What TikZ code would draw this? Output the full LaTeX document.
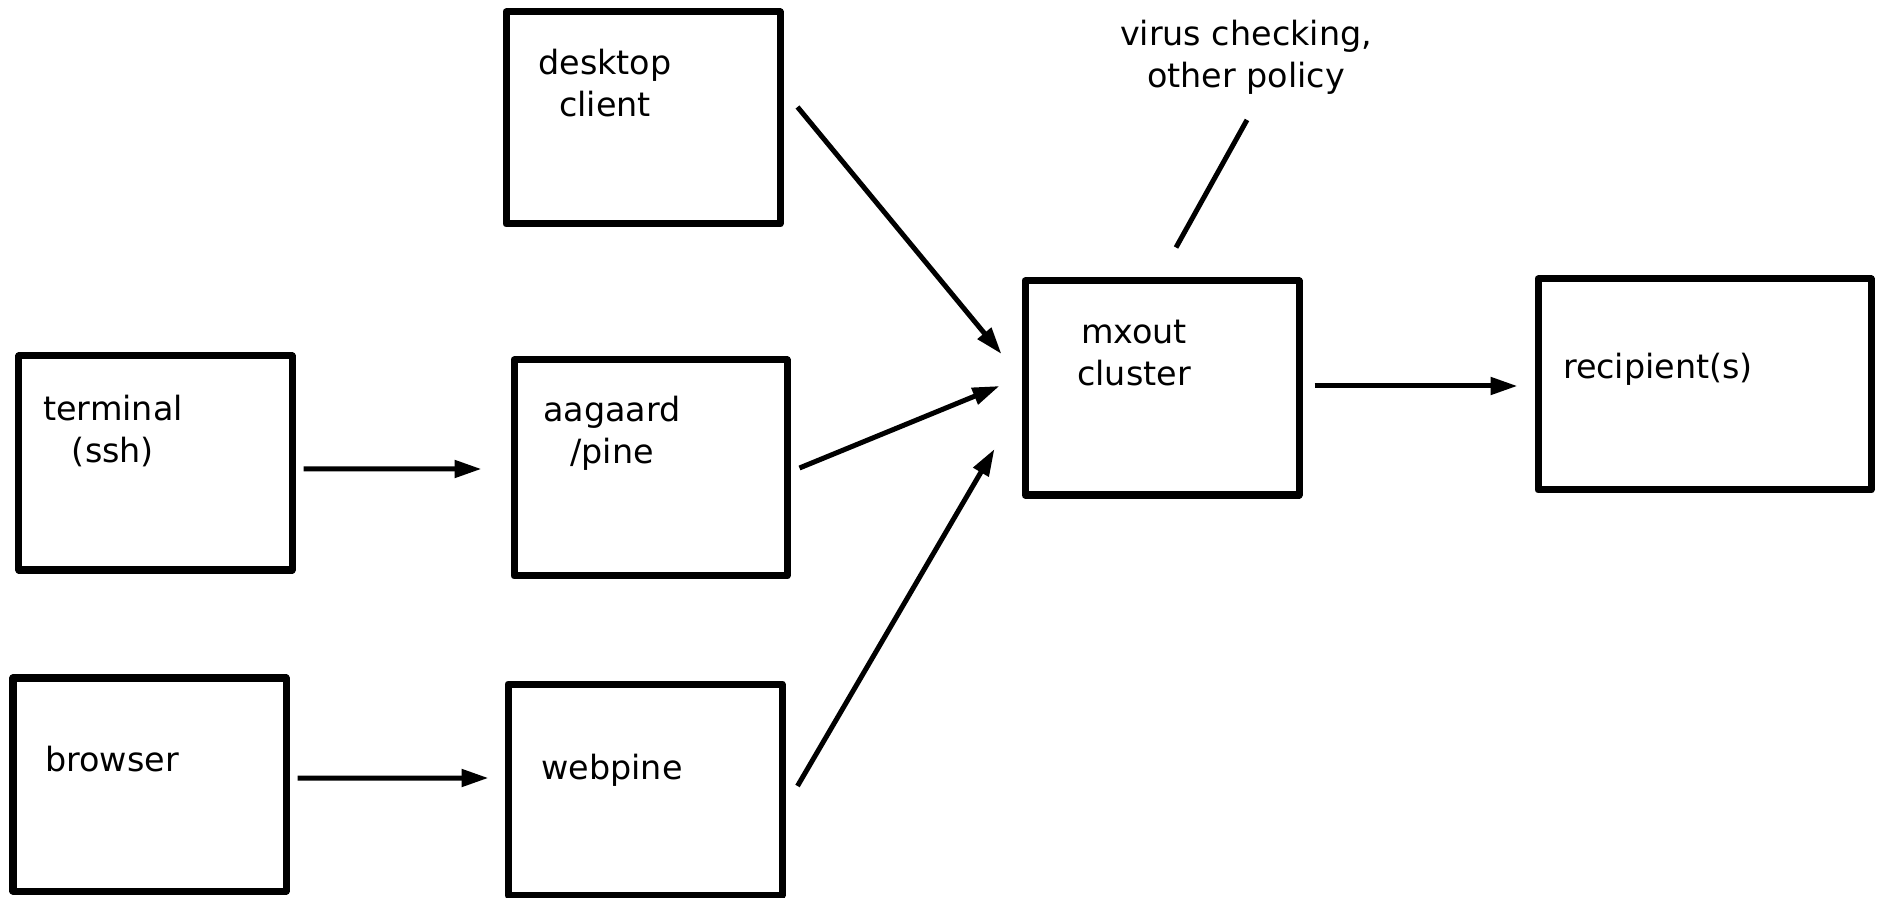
\documentclass[tikz,border=0pt]{standalone}
\usepackage{fontspec}
\setmainfont{DejaVu Sans}
\usetikzlibrary{arrows.meta, positioning, calc}

\begin{document}
\begin{tikzpicture}[box/.style={draw, line width=0.07cm, line join=round, minimum width=2.74cm, minimum height=2.14cm, inner sep=0pt}, txt/.style={align=center, inner sep=0pt, font=\fontsize{9.5}{12}\selectfont}, arr/.style={-{Triangle[length=0.27cm,width=0.17cm]}, line width=0.05cm}]
        \useasboundingbox (0,0) rectangle (18.78,-8.98);

        % boxes
        \node[box, minimum height=2.12cm] (desk) at (6.43,-1.18) {};
        \node[box, minimum width=2.73cm] (term) at (1.555,-4.63) {};
        \node[box, minimum width=2.73cm, minimum height=2.16cm] (aag) at (6.505,-4.68) {};
        \node[box, minimum width=2.73cm, minimum height=2.13cm] (brow) at (1.495,-7.845) {};
        \node[box, minimum height=2.11cm] (web) at (6.45,-7.895) {};
        \node[box] (mx) at (11.62,-3.88) {};
        \node[box, minimum width=3.33cm, minimum height=2.11cm] (rec) at (17.045,-3.845) {};

        % texts
        \node[txt] (desktxt) at (6.05,-0.83) {desktop\\client};
        \node[txt] (termtxt) at (1.13,-4.31) {terminal\\(ssh)};
        \node[txt] (aagtxt) at (6.12,-4.33) {aagaard\\/pine};
        \node[txt] (browtxt) at (1.12,-7.59) {browser};
        \node[txt] (webtxt) at (6.12,-7.70) {webpine};
        \node[txt] (mxtxt) at (11.34,-3.53) {mxout\\cluster};
        \node[txt] (rectxt) at (16.58,-3.69) {recipient(s)};
        \node[txt] (virus) at (12.46,-0.575) {virus checking,\\other policy};

        \draw[arr] ([shift={(0.08,-0.06)}]term.east) -- ([shift={(-0.29,-0.01)}]aag.west);
        \draw[arr] ([shift={(0.08,0.065)}]brow.east) -- ([shift={(-0.16,0.115)}]web.west);
        \draw[arr] ([shift={(0.14,0.11)}]desk.east) -- ([shift={(-0.20,0.34)}]mx.west);
        \draw[arr] ([shift={(0.09,0)}]aag.east) -- ([shift={(-0.22,0.02)}]mx.west);
        \draw[arr] ([shift={(0.12,0.035)}]web.east) -- ([shift={(-0.27,-0.61)}]mx.west);
        \draw[arr] ([shift={(0.12,0.02)}]mx.east) -- ([shift={(-0.17,-0.015)}]rec.west);
        \draw[line width=0.05cm] ([shift={(0.01,-0.245)}]virus.south) -- ([shift={(0.14,0.30)}]mx.north);
    \end{tikzpicture}
\end{document}
